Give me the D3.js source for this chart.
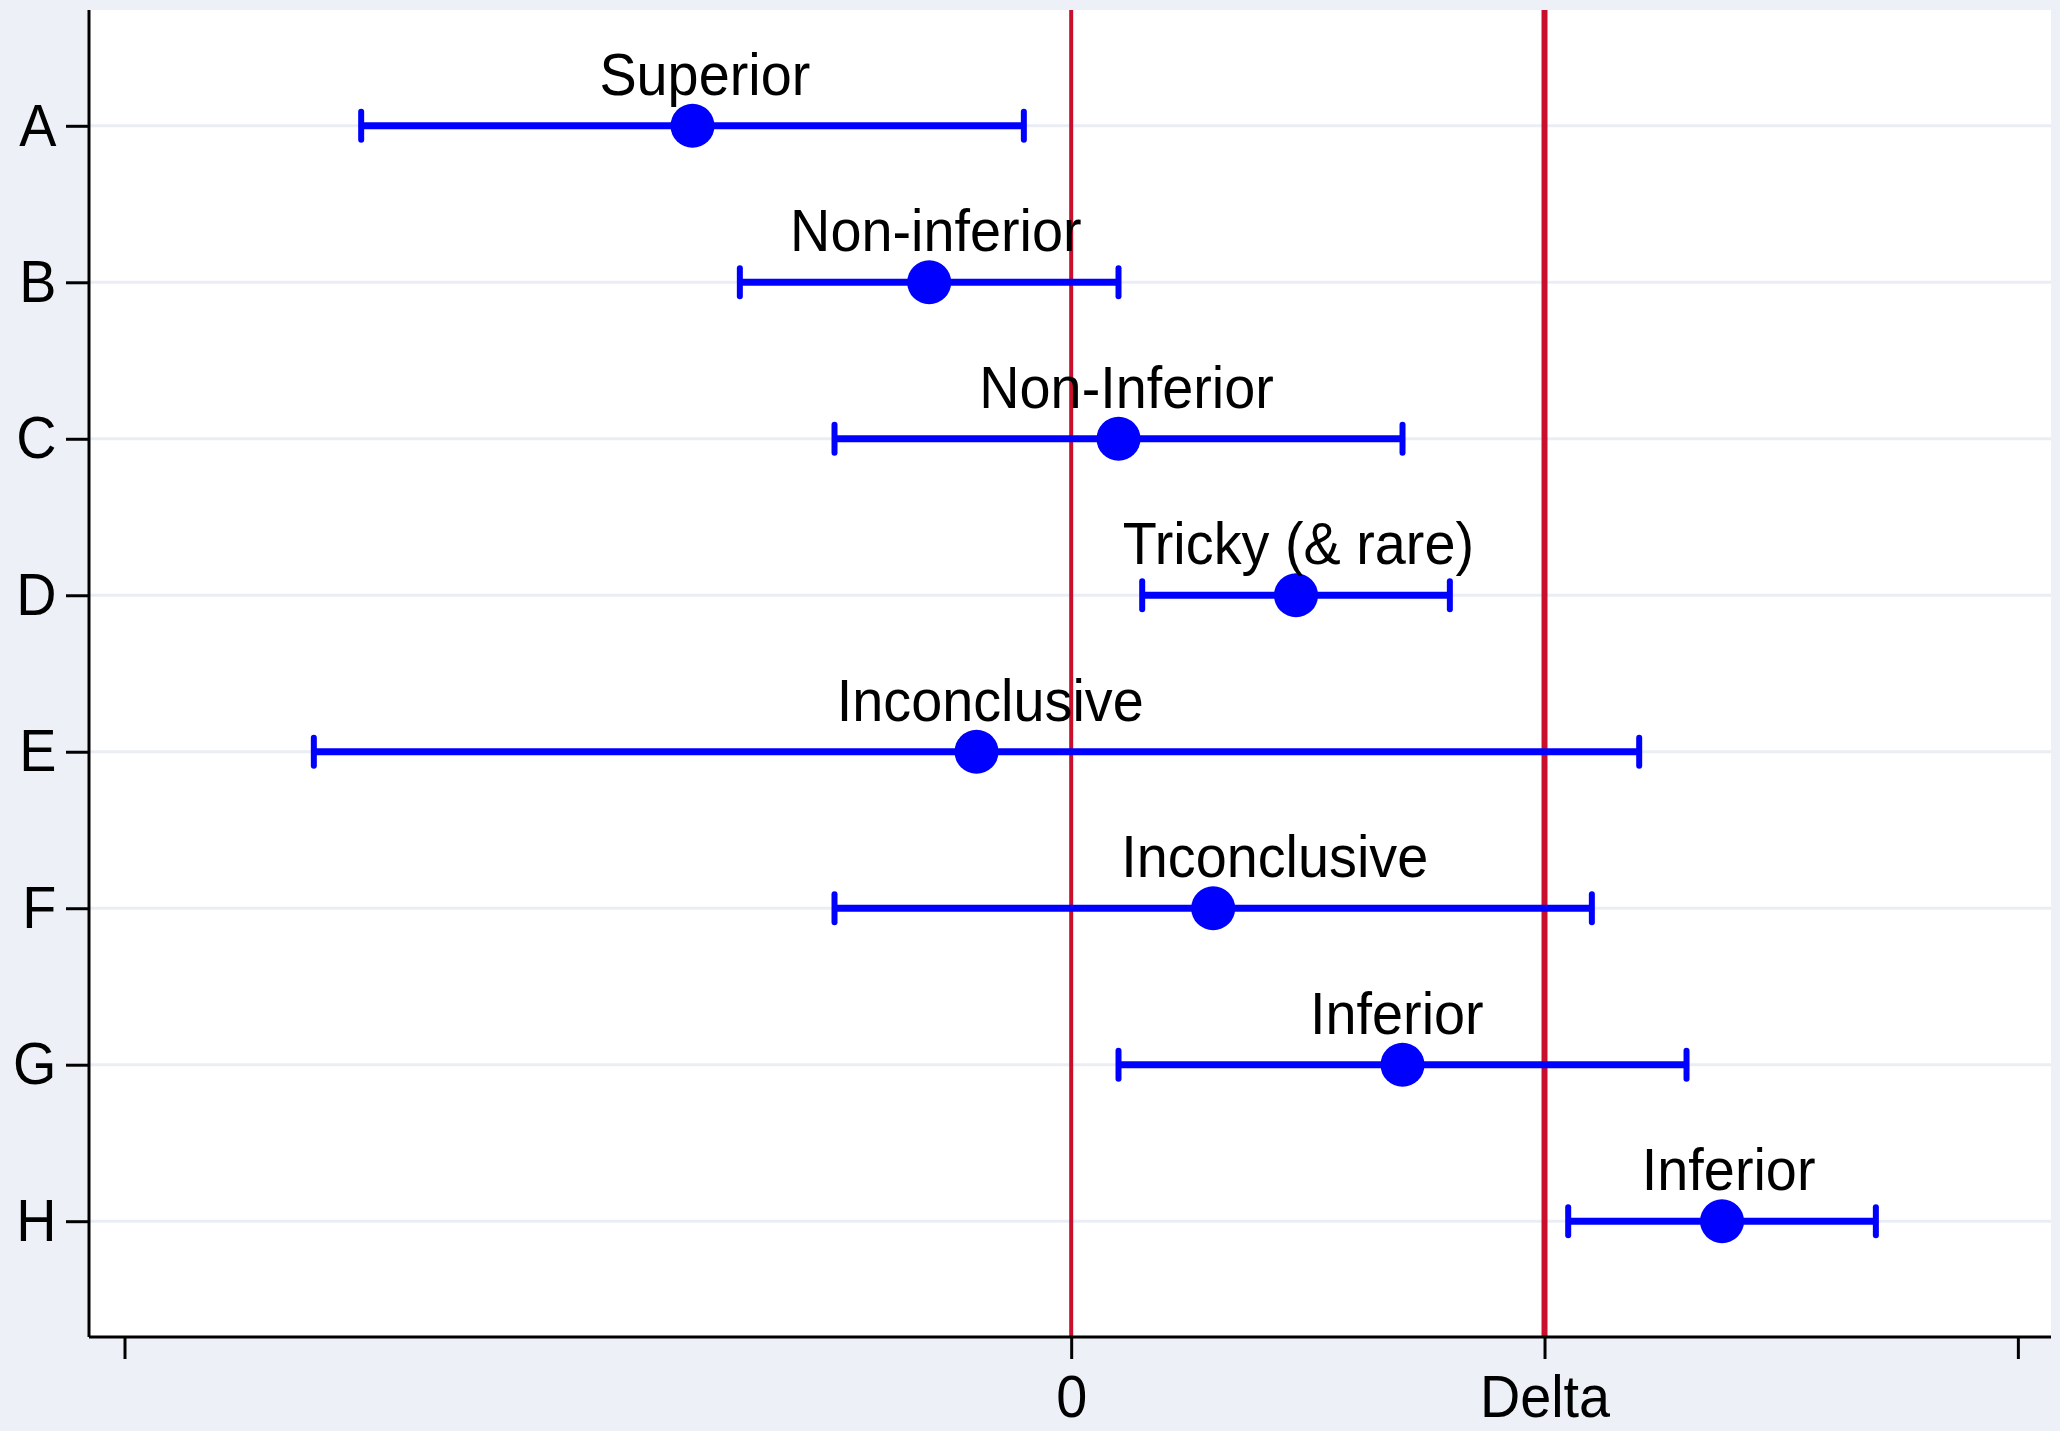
<!DOCTYPE html>
<html>
<head>
<meta charset="utf-8">
<script src="https://cdn.jsdelivr.net/npm/d3@7"></script>
<style>
  body { margin: 0; background: #edf1f7; }
  svg { display: block; }
  text { font-family: Arial, "Liberation Sans", sans-serif; }
</style>
</head>
<body>
<div class="chart"></div>
<script>
var opts = {
  width: 2060,
  height: 1431,
  left: 89,
  right: 2051,
  top: 10,
  bottom: 1337,
  fontSize: 60,
  squeeze: 0.93
};

// data, in units of Delta
var categories = ['A', 'B', 'C', 'D', 'E', 'F', 'G', 'H'];
var estimates  = [-0.8, -0.3, 0.1, 0.475, -0.2, 0.3, 0.7, 1.375];
var lowerCI    = [-1.5, -0.7, -0.5, 0.15, -1.6, -0.5, 0.1, 1.05];
var upperCI    = [-0.1, 0.1, 0.7, 0.8, 1.2, 1.1, 1.3, 1.7];
var verdicts   = ['Superior', 'Non-inferior', 'Non-Inferior', 'Tricky (& rare)',
                  'Inconclusive', 'Inconclusive', 'Inferior', 'Inferior'];
var verdictX   = [-0.774, -0.286, 0.117, 0.48, -0.171, 0.43, 0.688, 1.389];
var xTicks     = [-2, 0, 1, 2];
var xTickLabels = ['', '0', 'Delta', ''];
var refLines   = [0, 1];

var rows = categories.map(function(c, i){
  return { cat: c, pos: i + 1, est: estimates[i], lo: lowerCI[i], hi: upperCI[i],
           label: verdicts[i], lx: verdictX[i] };
});

var x = d3.scaleLinear().domain([-2.075, 2.07]).range([opts.left, opts.right]);
var y = d3.scaleLinear().domain([0.26, 8.74]).range([opts.top, opts.bottom]);

var svg = d3.select('.chart').append('svg')
  .attr('width', opts.width)
  .attr('height', opts.height);

svg.append('rect')
  .attr('width', opts.width).attr('height', opts.height)
  .attr('fill', '#edf1f7');

// plot region
svg.append('rect')
  .attr('x', opts.left).attr('y', opts.top)
  .attr('width', opts.right - opts.left)
  .attr('height', opts.bottom - opts.top)
  .attr('fill', '#ffffff');

// gridlines
svg.selectAll('line.grid')
  .data(rows)
  .enter().append('line')
  .attr('class', 'grid')
  .attr('x1', opts.left).attr('x2', opts.right)
  .attr('y1', function(d){ return y(d.pos); })
  .attr('y2', function(d){ return y(d.pos); })
  .attr('stroke', '#eaeef4')
  .attr('stroke-width', 3);

// reference lines at 0 and Delta
svg.selectAll('line.ref')
  .data(refLines)
  .enter().append('line')
  .attr('class', 'ref')
  .attr('x1', function(d){ return x(d); })
  .attr('x2', function(d){ return x(d); })
  .attr('y1', opts.top).attr('y2', opts.bottom)
  .attr('stroke', '#c8102e')
  .attr('stroke-width', function(d){ return d === 0 ? 4 : 6; });

// axes
var yAxis = d3.axisLeft(y)
  .tickValues(rows.map(function(d){ return d.pos; }))
  .tickFormat(function(d){ return categories[d - 1]; })
  .tickSize(23)
  .tickPadding(12);

var xAxis = d3.axisBottom(x)
  .tickValues(xTicks)
  .tickFormat(function(d, i){ return xTickLabels[i]; })
  .tickSize(22)
  .tickPadding(15);

var gy = svg.append('g')
  .attr('transform', 'translate(' + opts.left + ',0)')
  .call(yAxis);
gy.select('.domain').attr('d', 'M0,' + opts.top + 'V' + opts.bottom);

var gx = svg.append('g')
  .attr('transform', 'translate(0,' + opts.bottom + ')')
  .call(xAxis);
gx.select('.domain').attr('d', 'M' + opts.left + ',0H' + opts.right);

[gx, gy].forEach(function(g){
  g.selectAll('.domain').attr('stroke', '#000').attr('stroke-width', 3);
  g.selectAll('.tick line').attr('stroke', '#000').attr('stroke-width', 3);
  g.selectAll('.tick text')
    .attr('fill', '#000')
    .attr('transform', 'scale(' + opts.squeeze + ',1)')
    .style('font-size', opts.fontSize + 'px')
    .style('font-family', 'Arial, "Liberation Sans", sans-serif');
});

// error bars
svg.selectAll('line.ci')
  .data(rows)
  .enter().append('line')
  .attr('class', 'ci')
  .attr('x1', function(d){ return x(d.lo); })
  .attr('x2', function(d){ return x(d.hi); })
  .attr('y1', function(d){ return y(d.pos); })
  .attr('y2', function(d){ return y(d.pos); })
  .attr('stroke', '#0000ff')
  .attr('stroke-width', 7);

var caps = [];
rows.forEach(function(d){
  caps.push({ v: d.lo, pos: d.pos });
  caps.push({ v: d.hi, pos: d.pos });
});

svg.selectAll('line.cap')
  .data(caps)
  .enter().append('line')
  .attr('class', 'cap')
  .attr('x1', function(d){ return x(d.v); })
  .attr('x2', function(d){ return x(d.v); })
  .attr('y1', function(d){ return y(d.pos) - 14; })
  .attr('y2', function(d){ return y(d.pos) + 14; })
  .attr('stroke', '#0000ff')
  .attr('stroke-width', 6)
  .attr('stroke-linecap', 'round');

// point estimates
svg.selectAll('circle.est')
  .data(rows)
  .enter().append('circle')
  .attr('class', 'est')
  .attr('cx', function(d){ return x(d.est); })
  .attr('cy', function(d){ return y(d.pos); })
  .attr('r', 22)
  .attr('fill', '#0000ff');

// verdict labels
svg.selectAll('g.verdict')
  .data(rows)
  .enter().append('g')
  .attr('class', 'verdict')
  .attr('transform', function(d){
    return 'translate(' + x(d.lx) + ',' + (y(d.pos) - 31) + ') scale(' + opts.squeeze + ',1)';
  })
  .append('text')
  .attr('text-anchor', 'middle')
  .attr('fill', '#000')
  .style('font-size', opts.fontSize + 'px')
  .text(function(d){ return d.label; });
</script>
</body>
</html>
